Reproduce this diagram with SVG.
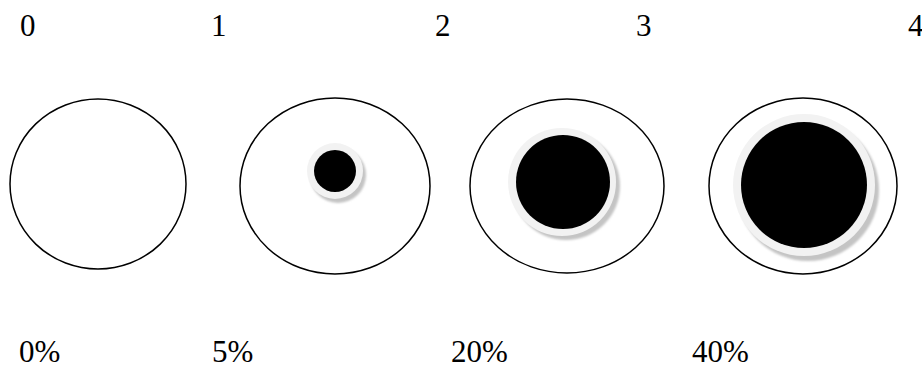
<svg xmlns="http://www.w3.org/2000/svg" width="922" height="370" viewBox="0 0 922 370">
<defs>
<filter id="blur" x="-20%" y="-20%" width="140%" height="140%"><feGaussianBlur stdDeviation="1.2"/></filter>
</defs>
<rect width="922" height="370" fill="#fff"/>
<g id="labels-top" font-family="Times New Roman" font-size="31" fill="#000">
<text x="20" y="36" style="font-family:'Liberation Serif','Times New Roman',serif">0</text>
<text x="211" y="36" style="font-family:'Liberation Serif','Times New Roman',serif">1</text>
<text x="435" y="36" style="font-family:'Liberation Serif','Times New Roman',serif">2</text>
<text x="636" y="36" style="font-family:'Liberation Serif','Times New Roman',serif">3</text>
<text x="908" y="36" style="font-family:'Liberation Serif','Times New Roman',serif">4</text>
</g>
<g id="node0">
<ellipse cx="98" cy="184" rx="88" ry="85" fill="#fff" stroke="#000" stroke-width="1.5"/>
</g>
<g id="node1">
<ellipse cx="335" cy="186" rx="95" ry="88" fill="#fff" stroke="#000" stroke-width="1.5"/>
<circle cx="338" cy="175" r="28" fill="#c4c4c4" filter="url(#blur)"/>
<circle cx="335" cy="171" r="28" fill="#f2f2f2"/>
<circle cx="335" cy="171" r="21" fill="#000"/>
</g>
<g id="node2">
<ellipse cx="567" cy="186" rx="97" ry="87" fill="#fff" stroke="#000" stroke-width="1.5"/>
<circle cx="566" cy="186" r="54" fill="#c4c4c4" filter="url(#blur)"/>
<circle cx="562" cy="182" r="54" fill="#f2f2f2"/>
<circle cx="563" cy="182" r="47" fill="#000"/>
</g>
<g id="node3">
<ellipse cx="803" cy="186" rx="94" ry="88" fill="#fff" stroke="#000" stroke-width="1.5"/>
<circle cx="808" cy="190" r="71" fill="#c4c4c4" filter="url(#blur)"/>
<circle cx="804" cy="185" r="71" fill="#f2f2f2"/>
<circle cx="804" cy="185" r="63" fill="#000"/>
</g>
<g id="connectors"></g>
<g id="labels-bottom" font-family="Times New Roman" font-size="31" fill="#000">
<text x="19" y="362" style="font-family:'Liberation Serif','Times New Roman',serif">0%</text>
<text x="212" y="362" style="font-family:'Liberation Serif','Times New Roman',serif">5%</text>
<text x="451" y="362" style="font-family:'Liberation Serif','Times New Roman',serif">20%</text>
<text x="692" y="362" style="font-family:'Liberation Serif','Times New Roman',serif">40%</text>
</g>
</svg>
